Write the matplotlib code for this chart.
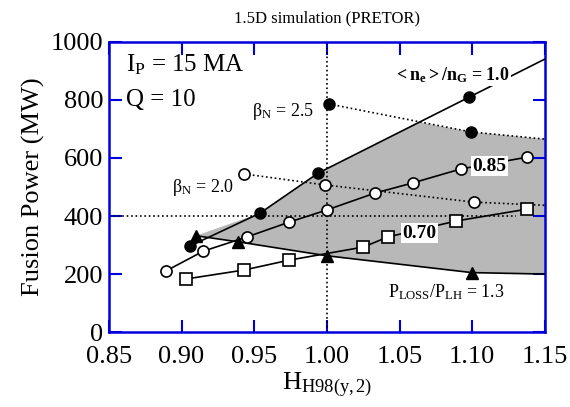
import numpy as np
import matplotlib
matplotlib.use('Agg')
import matplotlib.pyplot as plt

plt.rcParams['font.family'] = ['Liberation Serif', 'DejaVu Serif']
plt.rcParams['mathtext.fontset'] = 'custom'
plt.rcParams['mathtext.rm'] = 'Liberation Serif'
plt.rcParams['mathtext.it'] = 'Liberation Serif:italic'
plt.rcParams['mathtext.bf'] = 'Liberation Serif:bold'

# <n_e>/n_G = 1.0 (filled circles)
h_10 = [0.906, 0.954, 0.994, 1.098]
p_10 = [297, 410, 548, 810]
# <n_e>/n_G = 0.85 (open circles)
h_085 = [0.889, 0.915, 0.945, 0.974, 1.000, 1.033, 1.059, 1.092, 1.138]
p_085 = [210, 279, 328, 379, 421, 479, 514, 562, 603]
# <n_e>/n_G = 0.70 (squares)
h_070 = [0.903, 0.943, 0.974, 1.025, 1.042, 1.089, 1.138]
p_070 = [183, 214, 248, 293, 328, 383, 424]
# P_LOSS/P_LH = 1.3 (triangles)
h_plh = [0.910, 0.939, 1.000, 1.0998]
p_plh = [332, 311, 263, 205]
# beta_N = 2.5 and 2.0 (dotted)
h_b25 = [1.0014, 1.099, 1.15]
p_b25 = [786, 690, 665]
h_b20 = [0.943, 0.999, 1.101, 1.15]
p_b20 = [545, 507, 448, 437]
# operating window (shaded)
h_win = [0.910, 0.954, 0.994, 1.063, 1.099, 1.15, 1.15, 1.0998, 1.000, 0.939]
p_win = [332, 410, 548, 724, 690, 665, 200, 205, 263, 311]

fig = plt.figure(figsize=(5.7, 4.07), dpi=100)
ax = fig.add_axes([0.191, 0.184, 0.765, 0.713])

ax.fill(h_win, p_win, facecolor='0.72', edgecolor='none', zorder=1)

# reference lines
ax.plot([1.0, 1.0], [0, 1000], ls=':', color='k', lw=1.2, zorder=2)
ax.plot([0.85, 1.13], [400, 400], ls=':', color='k', lw=1.2, zorder=2)

# beta_N lines
ax.plot(h_b25, p_b25, ls=':', color='k', lw=1.2, zorder=3)
ax.plot(h_b20, p_b20, ls=':', color='k', lw=1.2, zorder=3)
ax.plot(h_b25[:2], p_b25[:2], ls='none', marker='o', ms=8, color='k', zorder=5)
ax.plot(h_b20[:3], p_b20[:3], ls='none', marker='o', ms=8, mfc='white', mec='k', mew=1.2, zorder=5)

# density lines
slope = (p_10[3] - p_10[2]) / (h_10[3] - h_10[2])
ax.plot(h_10 + [1.15], p_10 + [p_10[3] + slope * (1.15 - h_10[3])], color='k', lw=1.2, zorder=3)
ax.plot(h_10, p_10, ls='none', marker='o', ms=8, color='k', zorder=5)
ax.plot(h_085, p_085, color='k', lw=1.2, marker='o', ms=8, mfc='white', mec='k', mew=1.2, zorder=4)
ax.plot(h_070, p_070, color='k', lw=1.2, marker='s', ms=8, mfc='white', mec='k', mew=1.2, zorder=4)
ax.plot(h_plh + [1.15], p_plh + [200], color='k', lw=1.2, zorder=3)
ax.plot(h_plh, p_plh, ls='none', marker='^', ms=9, color='k', zorder=5)

box = dict(facecolor='white', edgecolor='none', pad=1)
ax.text(0.862, 920, r'$\mathrm{I_P}$ = 15 MA', fontsize=18, va='center', ha='left')
ax.text(0.862, 800, 'Q = 10', fontsize=18, va='center', ha='left')
ax.text(0.991, 760, r'$\mathrm{β_N}$ = 2.5', fontsize=13, va='center', ha='right')
ax.text(0.936, 497, r'$\mathrm{β_N}$ = 2.0', fontsize=13, va='center', ha='right')
ax.text(1.086, 886, r'$\mathbf{<n_e>/n_G}$ = 1.0', fontsize=13, fontweight='bold',
        va='center', ha='center', bbox=box, zorder=6)
ax.text(1.100, 572, '0.85', fontsize=14, fontweight='bold', va='center', ha='left', bbox=box, zorder=6)
ax.text(1.052, 341, '0.70', fontsize=14, fontweight='bold', va='center', ha='left', bbox=box, zorder=6)
ax.text(1.042, 138, r'P$_{\mathrm{LOSS}}$/P$_{\mathrm{LH}}$ = 1.3', fontsize=13, va='center', ha='left')

ax.set_xlim(0.85, 1.15)
ax.set_ylim(0, 1000)
ax.set_xticks(np.arange(0.85, 1.151, 0.05))
ax.set_xticklabels(['0.85', '0.90', '0.95', '1.00', '1.05', '1.10', '1.15'])
ax.set_yticks(np.arange(0, 1001, 200))
ax.tick_params(direction='in', length=9, width=1.5, color='#0000dd', labelsize=19,
               top=True, right=True, pad=4)
ax.tick_params(axis='x', pad=10)
for s in ax.spines.values():
    s.set_color('#0000dd')
    s.set_linewidth(1.8)

ax.set_xlabel(r'H$_{\mathrm{H98(y,2)}}$', fontsize=19, labelpad=2)
ax.set_ylabel('Fusion Power (MW)', fontsize=19, labelpad=4)
ax.set_title('1.5D simulation (PRETOR)', fontsize=12, pad=14)

fig.savefig('out.png', dpi=100)
